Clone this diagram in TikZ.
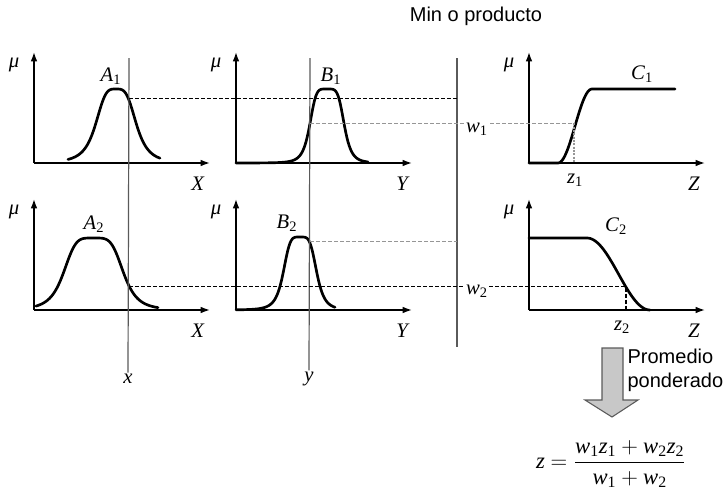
\documentclass[tikz,border=0pt]{standalone}
\usepackage{amsmath}
\usepackage{fontspec}
\setmainfont{Liberation Serif}
\newfontfamily\arialfont{Liberation Sans}
\usetikzlibrary{arrows.meta}
\definecolor{guidegray}{RGB}{150,150,150}
\definecolor{linegray}{RGB}{90,90,90}
\definecolor{arrowfill}{RGB}{200,200,200}
\newcommand{\vv}[1]{\textit{#1}}
\newcommand{\vs}[2]{\textit{#1}$_{\text{#2}}$}

\begin{document}
\begin{tikzpicture}[
  x=0.75pt, y=-0.75pt,
  axis/.style={line width=1.1pt, -{Latex[length=7pt,width=5pt]}},
  mf/.style={line width=2pt, line join=round, line cap=round},
  cut/.style={line width=0.9pt, draw=linegray},
  guide/.style={line width=0.8pt, dash pattern=on 3pt off 1.5pt},
  guidelight/.style={guide, draw=guidegray},
  lbl/.style={font=\fontsize{15.5}{18}\selectfont, inner sep=1pt},
  note/.style={font=\arialfont\fontsize{15}{18}\selectfont, inner sep=1pt},
]
  \useasboundingbox (0,0) rectangle (724,490);

  % axes of the six panels
  \foreach \ox/\oy in {34/163, 236/163, 529/163, 34/310, 236/310, 529/310} {
    \draw[axis] (\ox,\oy) -- ++(0,-111);
    \draw[axis] (\ox,\oy) -- ++(176,0);
    \node[lbl] at (\ox-20,\oy-98) {\vv{μ}};
  }
  \node[lbl] (X1) at (198,184) {\vv{X}};
  \node[lbl] (Y1) at (403,184) {\vv{Y}};
  \node[lbl] (Z1) at (694,184) {\vv{Z}};
  \node[lbl] (X2) at (198,331) {\vv{X}};
  \node[lbl] (Y2) at (403,331) {\vv{Y}};
  \node[lbl] (Z2) at (694,331) {\vv{Z}};

  % membership functions
  \draw[mf] plot[domain=68:160, samples=100] (\x, {163-74/(1+pow(abs((\x-116)/21),3.6))});
  \draw[mf] plot[domain=236:368, samples=120] (\x, {163-74/(1+pow(abs((\x-327)/17.5),5))});
  \draw[mf] (529,163) -- (558,163)
    -- plot[domain=0:1, samples=40] ({558+34*\x}, {163-74*(1-cos(180*\x))/2})
    -- (675,89);
  \draw[mf] plot[domain=36:158, samples=100] (\x, {310-72/(1+pow(abs((\x-93.5)/30.5),4.5))});
  \draw[mf] plot[domain=236:335, samples=100] (\x, {310-73/(1+pow(abs((\x-300)/17),4.5))});
  \draw[mf] (529,238) -- (587,238)
    -- plot[domain=0:1, samples=40] ({587+63*\x}, {310-72*(1+cos(180*\x))/2});

  \node[lbl] (A1) at (111,76) {\vs{A}{1}};
  \node[lbl] (B1) at (331,76) {\vs{B}{1}};
  \node[lbl] (C1) at (642,74) {\vs{C}{1}};
  \node[lbl] (A2) at (94,224) {\vs{A}{2}};
  \node[lbl] (B2) at (287,223) {\vs{B}{2}};
  \node[lbl] (C2) at (616,226) {\vs{C}{2}};

  % inputs and separator
  \node[lbl] (xin) at (128,379) {\vv{x}};
  \node[lbl] (yin) at (309,379) {\vv{y}};
  \coordinate (xtop) at (129,58);
  \coordinate (ytop) at (310,58);
  \coordinate (septop) at (457,58);
  \coordinate (sepbot) at (457,347);
  \draw[cut] (xtop) -- (xin.north);
  \draw[cut] (ytop) -- (yin.north);
  \draw[cut] (septop) -- (sepbot);
  \node[note] (minprod) at (476,16) {Min o producto};

  % firing strengths
  \coordinate (a1cut) at (129,98.9);
  \coordinate (b1cut) at (310,123.3);
  \coordinate (a2cut) at (129,286.6);
  \coordinate (b2cut) at (310,241.6);
  \coordinate (c1cut) at (574,123.3);
  \coordinate (c2cut) at (626,286.6);
  \draw[guide] (a1cut) -- (a1cut -| sepbot);
  \draw[guidelight] (b1cut) -- (c1cut);
  \draw[guidelight, dash pattern=on 1.5pt off 1pt] (c1cut) -- (574,163);
  \draw[guidelight] (b2cut) -- (b2cut -| sepbot);
  \draw[guide] (a2cut) -- (c2cut) -- (626,310);
  \node[lbl, fill=white] (w1) at (477,129) {\vs{w}{1}};
  \node[lbl, fill=white] (w2) at (477,291) {\vs{w}{2}};
  \node[lbl] (z1) at (575,180) {\vs{z}{1}};
  \node[lbl] (z2) at (622,327) {\vs{z}{2}};

  % defuzzification
  \draw[draw=linegray, fill=arrowfill, line width=0.8pt]
    (602,348) -- (623,348) -- (623,400) -- (638,400) -- (612,417)
    -- (585,400) -- (602,400) -- cycle;
  \node[note, align=left, anchor=west] (avg) at (626,370) {Promedio\\ponderado};
  \node[lbl, font=\fontsize{17}{20}\selectfont] (zout) at (611,464)
    {\vv{z} $=\dfrac{\text{\vs{w}{1}\vs{z}{1}} + \text{\vs{w}{2}\vs{z}{2}}}{\text{\vs{w}{1}} + \text{\vs{w}{2}}}$};
\end{tikzpicture}
\end{document}
